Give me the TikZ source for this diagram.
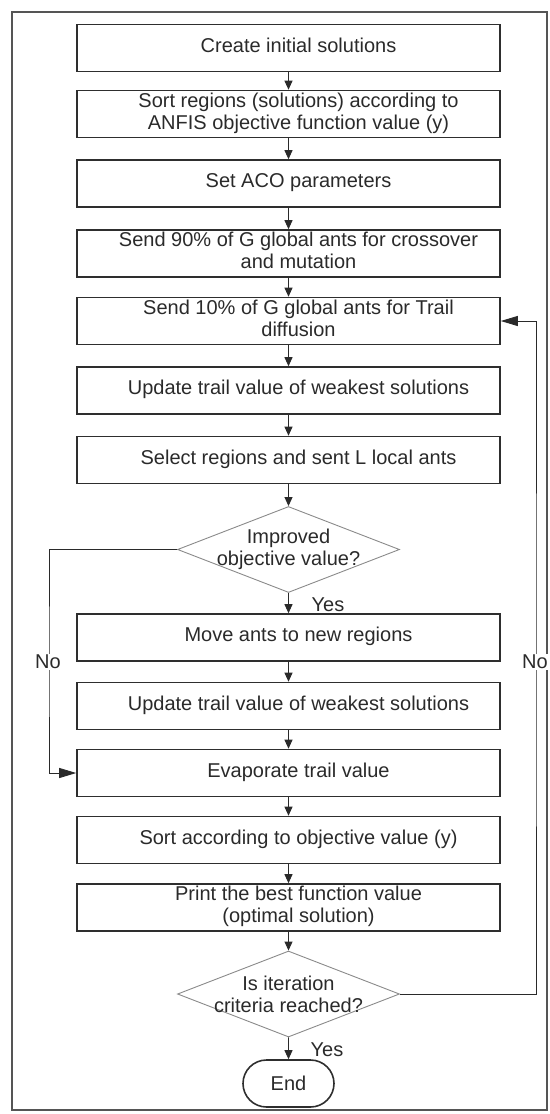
\documentclass[tikz,border=0pt]{standalone}
\usepackage{fontspec}
\setmainfont{Liberation Sans}
\usetikzlibrary{arrows.meta,shapes.geometric,shapes.misc}
\definecolor{ink}{HTML}{2A2A2A}
\definecolor{edgec}{HTML}{2E2E2E}
\definecolor{dgrey}{HTML}{8A8A8A}
\definecolor{framec}{HTML}{555555}
\newcommand{\bt}[1]{\hspace*{20pt}\begin{tabular}{@{}c@{}}#1\end{tabular}}
\begin{document}
\begin{tikzpicture}[x=1pt,y=-1pt,
  font=\fontsize{20}{22}\selectfont, text=ink,
  stepbox/.style={draw=edgec, line width=1.6pt, minimum width=423pt, minimum height=47pt, inner sep=0pt},
  decision/.style={draw=dgrey, line width=0.9pt, diamond, minimum width=222pt, minimum height=86pt, inner sep=0pt},
  arr/.style={draw=ink, line width=0.9pt, -{Triangle[length=9pt,width=8pt]}},
  arrbig/.style={draw=ink, line width=0.9pt, -{Triangle[length=17pt,width=10pt]}},
  lbl/.style={fill=white, inner sep=1pt}]
\useasboundingbox (0,0) rectangle (549,1114);
\draw[framec, line width=2pt] (12,12) rectangle (547,1110);

\node[stepbox] (b1) at (288.5,48) {\bt{Create initial solutions}};
\node[stepbox] (b2) at (288.5,114) {\bt{Sort regions (solutions) according to\\ANFIS objective function value (y)}};
\node[stepbox] (b3) at (288.5,183.5) {\bt{Set ACO parameters}};
\node[stepbox] (b4) at (288.5,253.5) {\bt{Send 90\% of G global ants for crossover\\and mutation}};
\node[stepbox] (b5) at (288.5,321) {\bt{Send 10\% of G global ants for Trail\\diffusion}};
\node[stepbox] (b6) at (288.5,390.5) {\bt{Update trail value of weakest solutions}};
\node[stepbox] (b7) at (288.5,460) {\bt{Select regions and sent L local ants}};
\node[decision, label={[align=center]center:{Improved\\objective value?}}] (d1) at (288.5,549.5) {};
\node[stepbox] (b8) at (288.5,637.5) {\bt{Move ants to new regions}};
\node[stepbox] (b9) at (288.5,706) {\bt{Update trail value of weakest solutions}};
\node[stepbox] (b10) at (288.5,773) {\bt{Evaporate trail value}};
\node[stepbox] (b11) at (288.5,840) {\bt{Sort according to objective value (y)}};
\node[stepbox] (b12) at (288.5,907.5) {\bt{Print the best function value\\(optimal solution)}};
\node[decision, label={[align=center]center:{Is iteration\\criteria reached?}}] (d2) at (288.5,994) {};
\node[draw=edgec, line width=1.6pt, rounded rectangle, minimum width=91pt, minimum height=47pt, inner sep=0pt] (end) at (288.5,1083.5) {End};

\draw[arr] (b1) -- (b2);
\draw[arr] (b2) -- (b3);
\draw[arr] (b3) -- (b4);
\draw[arr] (b4) -- (b5);
\draw[arr] (b5) -- (b6);
\draw[arr] (b6) -- (b7);
\draw[arr] (b7) -- (d1);
\draw[arr] (d1) -- (b8);
\draw[arr] (b8) -- (b9);
\draw[arr] (b9) -- (b10);
\draw[arr] (b10) -- (b11);
\draw[arr] (b11) -- (b12);
\draw[arr] (b12) -- (d2);
\draw[arr] (d2) -- (end);

\coordinate (nl) at (49,662);
\coordinate (nr) at (536,662);
\draw[arrbig] (d1.west) -| (nl) |- (b10.west);
\draw[arrbig] (d2.east) -| (nr) |- (b5.east);

\node[lbl] (no1) at (48,662) {No};
\node[lbl] (no2) at (535,662) {No};
\node (yes1) at (328,605) {Yes};
\node (yes2) at (327,1050) {Yes};
\end{tikzpicture}
\end{document}
